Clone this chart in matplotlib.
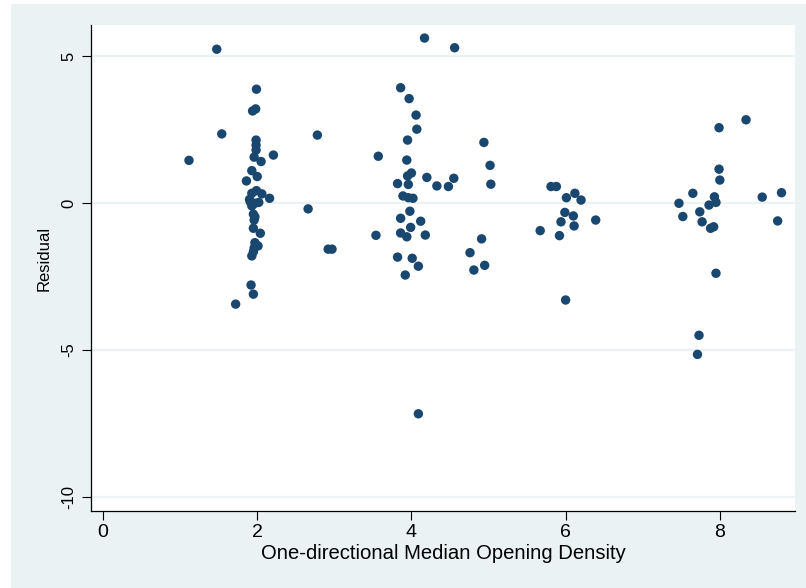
import matplotlib.pyplot as plt
from matplotlib.patches import Rectangle

# opening density vs. residual, one point per observation
density = [
    1.475, 1.99, 1.98, 1.94, 1.54, 1.115, 1.985, 1.985, 1.985, 2.21, 1.96, 2.05,
    1.93, 2.00, 1.86, 1.99, 2.06, 1.93, 2.16, 1.91, 1.97, 1.93, 2.02, 1.90,
    1.95, 1.97, 1.96, 1.95, 2.04, 1.97, 2.01, 1.96, 1.95, 1.93, 1.92, 1.95, 1.72,
    2.66, 2.78, 2.92, 2.97,
    4.17, 4.56, 3.86, 3.97, 4.06, 4.07, 3.95, 4.94, 3.57, 3.94, 5.02, 4.00,
    3.95, 4.20, 4.55, 3.82, 3.96, 4.33, 4.48, 5.03, 3.89, 3.96, 4.02, 3.98,
    3.86, 4.12, 3.99, 3.54, 3.86, 3.94, 4.18, 4.91, 4.76, 3.82, 4.01, 4.09,
    4.95, 4.81, 3.92, 4.09,
    5.67, 5.81, 5.88, 6.12, 6.01, 6.20, 5.99, 6.10, 5.94, 6.39, 6.11, 5.92, 6.00,
    8.34, 7.99, 7.99, 8.00, 7.65, 8.80, 8.55, 7.93, 7.47, 7.95, 7.86, 7.74,
    7.52, 7.77, 8.75, 7.88, 7.92, 7.95, 7.73, 7.71,
]
residual = [
    5.23, 3.87, 3.20, 3.13, 2.35, 1.45, 2.14, 1.97, 1.80, 1.63, 1.56, 1.41,
    1.10, 0.90, 0.75, 0.42, 0.31, 0.33, 0.16, 0.04, -0.01, -0.10, 0.02, 0.12,
    -0.38, -0.47, -0.58, -0.86, -1.03, -1.35, -1.46, -1.53, -1.66, -1.80, -2.79, -3.10, -3.44,
    -0.20, 2.31, -1.57, -1.57,
    5.61, 5.28, 3.92, 3.55, 2.99, 2.51, 2.14, 2.06, 1.59, 1.46, 1.28, 1.02,
    0.92, 0.87, 0.84, 0.66, 0.63, 0.58, 0.56, 0.64, 0.24, 0.18, 0.16, -0.28,
    -0.52, -0.62, -0.83, -1.10, -1.02, -1.15, -1.09, -1.22, -1.69, -1.84, -1.88, -2.15,
    -2.12, -2.28, -2.45, -7.17,
    -0.94, 0.56, 0.56, 0.33, 0.18, 0.10, -0.32, -0.44, -0.64, -0.58, -0.78, -1.11, -3.30,
    2.83, 2.56, 1.15, 0.78, 0.33, 0.35, 0.20, 0.21, -0.01, 0.02, -0.07, -0.30,
    -0.46, -0.64, -0.61, -0.86, -0.81, -2.39, -4.50, -5.15,
]

x_ticks = [0, 2, 4, 6, 8]
y_ticks = [5, 0, -5, -10]

NAVY = "#1a476f"
REGION = "#eaf2f3"
FONT = "Liberation Sans"

fig = plt.figure(figsize=(8.06, 5.88), dpi=100, facecolor="white")
# graph region: light band behind everything, leaving a thin white strip top/left
fig.patches.append(Rectangle((11 / 806, 0), 1 - 11 / 806, 1 - 4 / 588,
                             transform=fig.transFigure, facecolor=REGION,
                             edgecolor="none", zorder=-10))

ax = fig.add_axes([91 / 806, 1 - 511 / 588, (795 - 91) / 806, (511 - 25) / 588])
ax.set_facecolor("white")
ax.scatter(density, residual, s=46, color=NAVY, edgecolors="none", zorder=3)

ax.set_xlim(-0.156, 8.975)
ax.set_ylim(-10.476, 6.054)
ax.set_xticks(x_ticks)
ax.set_yticks(y_ticks)
ax.set_yticklabels([str(v) for v in y_ticks], rotation=90, va="center",
                   family=FONT, fontsize=12)
ax.set_xticklabels([str(v) for v in x_ticks], family=FONT, fontsize=14)
ax.tick_params(axis="both", length=6.5, width=0.8, color="black")
ax.tick_params(axis="y", pad=4)
ax.tick_params(axis="x", pad=3)

for y in y_ticks:
    ax.axhline(y, color=REGION, lw=1.6, zorder=1)

for side in ["top", "right"]:
    ax.spines[side].set_visible(False)
for side in ["left", "bottom"]:
    ax.spines[side].set_linewidth(0.9)

ax.set_xlabel("One-directional Median Opening Density", family=FONT,
              fontsize=14.6, labelpad=2)
ax.set_ylabel("Residual", family=FONT, fontsize=12)
ax.yaxis.set_label_coords(-0.056, 0.52)

fig.savefig("out.png", dpi=100, facecolor=fig.get_facecolor())
